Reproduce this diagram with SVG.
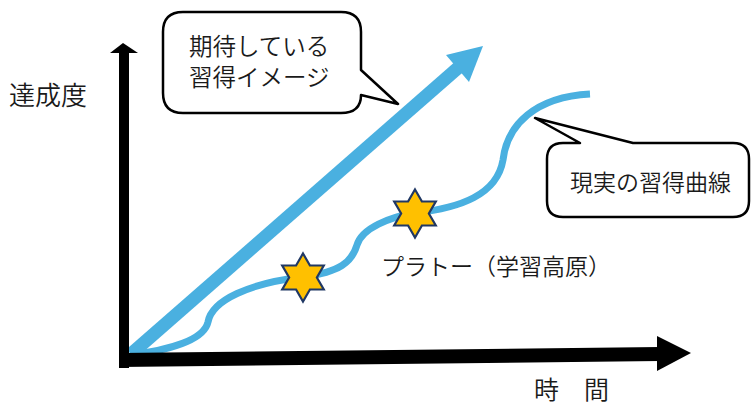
<svg xmlns="http://www.w3.org/2000/svg" width="755" height="405" viewBox="0 0 755 405">
<style>
.t{font-family:"Noto Sans CJK JP","Noto Sans CJK SC",sans-serif;fill:#1a1a1a;font-weight:350}
.callout{fill:#fff;stroke:#000;stroke-width:2.5;stroke-linejoin:round}
.star{fill:#FFC000;stroke:#203864;stroke-width:2.2;stroke-linejoin:miter}
.blue{fill:none;stroke:#4AB0E0}
</style>
<defs>
<polygon id="hex" points="0,-24 6.93,-12 20.78,-12 13.86,0 20.78,12 6.93,12 0,24 -6.93,12 -20.78,12 -13.86,0 -20.78,-12 -6.93,-12"/>
</defs>
<rect width="755" height="405" fill="#fff"/>
<g id="connectors">
<path id="real-curve" class="blue" stroke-width="7" d="M130 355 C170 350 204 340 208 322 C212 300 250 283 303 277 C340 272 352 262 357 245 C362 228 390 217 415 213 C460 208 497 195 503 160 C507 125 535 97 590 94"/>
<g id="ideal-arrow">
<line x1="131" y1="354" x2="459" y2="67" stroke="#4AB0E0" stroke-width="13"/>
<polygon points="483,46 469,82 446,55" fill="#4AB0E0"/>
</g>
<g id="y-axis">
<rect x="119" y="52" width="10" height="316" fill="#000"/>
<polygon points="123,43 138,53 110,53" fill="#000"/>
</g>
<g id="x-axis">
<polygon points="119,353 660,347 660,361 119,367" fill="#000"/>
<polygon points="657,336 691,353 657,371" fill="#000"/>
</g>
</g>
<g id="star1"><use href="#hex" class="star" transform="translate(303,277.5)"/></g>
<g id="star2"><use href="#hex" class="star" transform="translate(415,213.5)"/></g>
<g id="callout-ideal">
<path class="callout" d="M183 12 H341 Q361 12 361 32 V70 L398 104 L361 95 Q361 113 341 113 H183 Q163 113 163 93 V32 Q163 12 183 12 Z"/>
<text class="t" x="189" y="55" font-size="23.5">期待している</text>
<text class="t" x="189" y="86" font-size="23.5">習得イメージ</text>
</g>
<g id="callout-real">
<path class="callout" d="M563 143 H580 L535 118 L633 143 H733 Q749 143 749 159 V201 Q749 217 733 217 H563 Q547 217 547 201 V159 Q547 143 563 143 Z"/>
<text class="t" x="570" y="191" font-size="23">現実の習得曲線</text>
</g>
<g id="label-plateau"><text class="t" x="381" y="275" font-size="23">プラトー（学習高原）</text></g>
<g id="label-y"><text class="t" x="9" y="105" font-size="26">達成度</text></g>
<g id="label-x"><text class="t" x="534" y="399" font-size="25">時　間</text></g>
</svg>
